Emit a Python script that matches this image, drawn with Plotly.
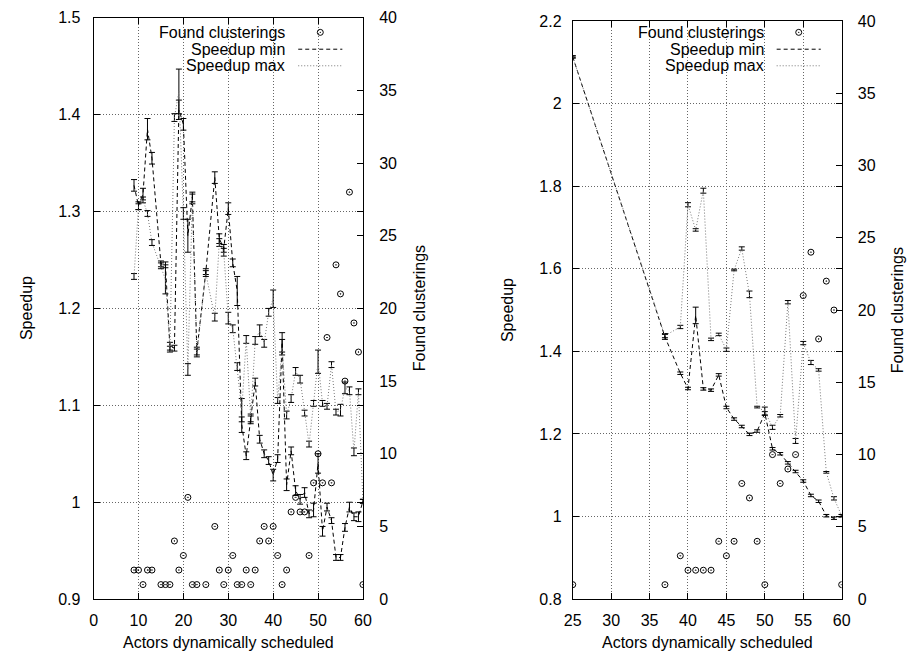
import plotly.graph_objects as go

# ---------------- data: left panel ----------------
left_x = [9, 10, 11, 12, 13, 15, 16, 17, 18, 19, 20, 21, 22, 23, 25, 27, 28, 29, 30, 31, 32, 33, 34,
          35, 36, 37, 38, 39, 40, 41, 42, 43, 44, 45, 46, 47, 48, 49, 50, 51, 52, 53, 54, 55, 56, 57,
          58, 59, 60]
left_found = [2, 2, 1, 2, 2, 1, 1, 1, 4, 2, 3, 7, 1, 1, 1, 5, 2, 1, 2, 3, 1, 1, 2,
              1, 2, 4, 5, 4, 5, 3, 1, 2, 6, 7, 6, 6, 3, 8, 10, 8, 18, 8, 23, 21, 15, 28,
              19, 17, 1]
left_min = [1.327, 1.306, 1.318, 1.385, 1.355, 1.246, 1.245, 1.161, 1.159, 1.405, 1.390, 1.275,
            1.315, 1.156, 1.238, 1.335, 1.272, 1.262, 1.303, 1.247, 1.218, 1.080, 1.048,
            1.085, 1.124, 1.065, 1.050, 1.043, 1.028, 1.045, 1.165, 1.018, 1.053, 1.012, 1.003,
            1.010, 0.988, 0.992, 1.040, 0.970, 0.995, 0.981, 0.943, 0.943, 0.974, 0.995,
            0.985, 0.985, 1.001]
left_min_err = [0.006, 0.004, 0.006, 0.011, 0.006, 0.003, 0.003, 0.004, 0.003, 0.010, 0.006, 0.017,
                0.005, 0.004, 0.003, 0.006, 0.005, 0.004, 0.006, 0.004, 0.015, 0.008, 0.004,
                0.004, 0.004, 0.004, 0.004, 0.004, 0.006, 0.004, 0.010, 0.006, 0.004, 0.005, 0.005,
                0.005, 0.004, 0.007, 0.010, 0.005, 0.004, 0.003, 0.003, 0.003, 0.004, 0.005,
                0.004, 0.005, 0.002]
left_max = [1.233, 1.305, 1.312, 1.298, 1.268, 1.244, 1.230, 1.158, 1.397, 1.424, 1.298, 1.137,
            1.313, 1.154, 1.236, 1.191, 1.268, 1.258, 1.190, 1.179, 1.140, 1.095, 1.168,
            1.087, 1.167, 1.177, 1.164, 1.196, 1.210, 1.105, 1.160, 1.090, 1.107, 1.135, 1.127,
            1.092, 1.060, 1.102, 1.145, 1.102, 1.099, 1.142, 1.093, 1.095, 1.118, 1.115,
            1.052, 1.114, 1.001]
left_max_err = [0.003, 0.003, 0.003, 0.003, 0.003, 0.003, 0.015, 0.003, 0.004, 0.023, 0.006, 0.006,
                0.005, 0.004, 0.003, 0.004, 0.004, 0.004, 0.006, 0.004, 0.004, 0.012, 0.004,
                0.004, 0.004, 0.006, 0.004, 0.004, 0.009, 0.003, 0.008, 0.004, 0.004, 0.004, 0.004,
                0.003, 0.003, 0.003, 0.012, 0.003, 0.003, 0.003, 0.003, 0.006, 0.006, 0.004,
                0.004, 0.003, 0.002]

# ---------------- data: right panel ----------------
right_x = [25, 37, 39, 40, 41, 42, 43, 44, 45, 46, 47, 48, 49, 50, 51, 52, 53, 54, 55, 56, 57, 58, 59, 60]
right_found = [1, 1, 3, 2, 2, 2, 2, 4, 3, 4, 8, 7, 4, 1, 10, 8, 9, 10, 21, 24, 18, 22, 20, 1]
right_min = [2.113, 1.435, 1.347, 1.310, 1.487, 1.309, 1.306, 1.343, 1.264, 1.236, 1.218, 1.199,
             1.207, 1.250, 1.164, 1.152, 1.130, 1.109, 1.086, 1.051, 1.037, 1.002, 0.996, 1.002]
right_min_err = [0.003, 0.006, 0.003, 0.003, 0.020, 0.003, 0.003, 0.003, 0.003, 0.003, 0.003, 0.003,
                 0.003, 0.004, 0.003, 0.003, 0.003, 0.003, 0.003, 0.003, 0.003, 0.003, 0.003, 0.003]
right_max = [2.113, 1.438, 1.459, 1.755, 1.694, 1.789, 1.429, 1.441, 1.404, 1.597, 1.649, 1.538,
             1.265, 1.255, 1.216, 1.244, 1.519, 1.183, 1.420, 1.373, 1.355, 1.107, 1.044, 1.002]
right_max_err = [0.002, 0.005, 0.004, 0.005, 0.003, 0.006, 0.003, 0.003, 0.004, 0.002, 0.004, 0.008,
                 0.002, 0.010, 0.005, 0.003, 0.004, 0.006, 0.004, 0.005, 0.003, 0.002, 0.004, 0.003]

# ---------------- text ----------------
x_title = "Actors dynamically scheduled"
y_title = "Speedup"
y2_title = "Found clusterings"
names = ["Found clusterings", "Speedup min", "Speedup max"]

W, H = 919, 662
FONT = "Liberation Sans, Arial, Helvetica, sans-serif"
FS = 16


def px(x):
    return x / W


def py(y):
    return 1 - y / H


fig = go.Figure()


def add_panel(xs, found, smin, smin_err, smax, smax_err, xa, ya, ya2):
    fig.add_trace(go.Scatter(x=xs, y=found, mode="markers", xaxis=xa, yaxis=ya2,
                             marker=dict(symbol="circle-open-dot", size=6, color="black",
                                         line=dict(width=1, color="black")),
                             showlegend=False, name=names[0]))
    fig.add_trace(go.Scatter(x=xs, y=smin, mode="lines", xaxis=xa, yaxis=ya,
                             line=dict(color="black", width=1, dash="4px,3px"),
                             error_y=dict(type="data", array=smin_err, visible=True,
                                          color="black", thickness=1, width=3),
                             showlegend=False, name=names[1]))
    fig.add_trace(go.Scatter(x=xs, y=smax, mode="lines", xaxis=xa, yaxis=ya,
                             line=dict(color="#777777", width=1, dash="1px,2px"),
                             error_y=dict(type="data", array=smax_err, visible=True,
                                          color="black", thickness=1, width=3),
                             showlegend=False, name=names[2]))


add_panel(left_x, left_found, left_min, left_min_err, left_max, left_max_err, "x", "y", "y2")
add_panel(right_x, right_found, right_min, right_min_err, right_max, right_max_err, "x2", "y3", "y4")

L = dict(l=86.3, r=361.0, t=10.0, b=606.7)
R = dict(l=575.0, r=849.3, t=13.3, b=606.7)

common_axis = dict(showline=True, linecolor="black", linewidth=1, ticks="inside", ticklen=6,
                   tickcolor="black", zeroline=False,
                   tickfont=dict(family=FONT, size=FS, color="black"))
grid = dict(showgrid=True, gridcolor="#666666", gridwidth=1, griddash="1px,2px")

fig.update_layout(
    width=W, height=H, margin=dict(l=0, r=0, t=0, b=0),
    paper_bgcolor="white", plot_bgcolor="white", showlegend=False,
    font=dict(family=FONT, size=FS, color="black"),
    xaxis=dict(domain=[px(L["l"]), px(L["r"])], anchor="y", range=[0, 60], dtick=10, tick0=0,
               mirror="ticks", ticklabelstandoff=7, **grid, **common_axis),
    yaxis=dict(domain=[py(L["b"]), py(L["t"])], anchor="x", range=[0.9, 1.5],
               tickvals=[0.9, 1.0, 1.1, 1.2, 1.3, 1.4, 1.5],
               ticktext=["0.9", "1", "1.1", "1.2", "1.3", "1.4", "1.5"],
               mirror="ticks", ticklabelstandoff=9, **grid, **common_axis),
    yaxis2=dict(overlaying="y", anchor="x", side="right", range=[0, 40], dtick=5, tick0=0,
                showgrid=False, ticklabelstandoff=12, **common_axis),
    xaxis2=dict(domain=[px(R["l"]), px(R["r"])], anchor="y3", range=[25, 60], dtick=5, tick0=25,
                mirror="ticks", ticklabelstandoff=7, **grid, **common_axis),
    yaxis3=dict(domain=[py(R["b"]), py(R["t"])], anchor="x2", range=[0.8, 2.2],
                tickvals=[0.8, 1.0, 1.2, 1.4, 1.6, 1.8, 2.0, 2.2],
                ticktext=["0.8", "1", "1.2", "1.4", "1.6", "1.8", "2", "2.2"],
                mirror="ticks", ticklabelstandoff=7, **grid, **common_axis),
    yaxis4=dict(overlaying="y3", anchor="x2", side="right", range=[0, 40], dtick=5, tick0=0,
                showgrid=False, ticklabelstandoff=12, **common_axis),
)

annotations = []
shapes = []
for P, ytx, y2tx, legx in [(L, 18, 419, 284), (R, 508, 906, 772)]:
    cx = (P["l"] + P["r"]) / 2
    cy = (P["t"] + P["b"]) / 2
    annotations.append(dict(text=x_title, x=px(cx), y=py(651), xref="paper", yref="paper",
                            showarrow=False, xanchor="center", yanchor="middle",
                            font=dict(family=FONT, size=FS)))
    annotations.append(dict(text=y_title, x=px(ytx), y=py(cy), xref="paper", yref="paper",
                            showarrow=False, textangle=-90, xanchor="center", yanchor="middle",
                            font=dict(family=FONT, size=FS)))
    annotations.append(dict(text=y2_title, x=px(y2tx), y=py(cy), xref="paper", yref="paper",
                            showarrow=False, textangle=-90, xanchor="center", yanchor="middle",
                            font=dict(family=FONT, size=FS)))
    # manual gnuplot-style key: right-justified text, sample to its right
    for nm, yy in zip(names, [25, 42.3, 59.3]):
        annotations.append(dict(text=nm, x=px(legx), y=py(yy), xref="paper", yref="paper",
                                showarrow=False, xanchor="right", yanchor="middle",
                                font=dict(family=FONT, size=FS)))
    s0, s1 = legx + 11, legx + 56
    mid = (s0 + s1) / 2
    shapes.append(dict(type="circle", xref="paper", yref="paper", xsizemode="pixel",
                       ysizemode="pixel", xanchor=px(mid), yanchor=py(25),
                       x0=-3, x1=3, y0=-3, y1=3, line=dict(color="black", width=1)))
    shapes.append(dict(type="circle", xref="paper", yref="paper", xsizemode="pixel",
                       ysizemode="pixel", xanchor=px(mid), yanchor=py(25),
                       x0=-0.7, x1=0.7, y0=-0.7, y1=0.7, fillcolor="black",
                       line=dict(color="black", width=0)))
    shapes.append(dict(type="line", xref="paper", yref="paper", x0=px(s0), x1=px(s1),
                       y0=py(42.3), y1=py(42.3), line=dict(color="black", width=1, dash="4px,3px")))
    shapes.append(dict(type="line", xref="paper", yref="paper", x0=px(s0), x1=px(s1),
                       y0=py(59.3), y1=py(59.3), line=dict(color="#777777", width=1, dash="1px,2px")))

fig.update_layout(annotations=annotations, shapes=shapes)

fig.write_html("out.html", config={"displayModeBar": False},
               post_script="document.body.style.margin='0';document.body.style.overflow='hidden';")
